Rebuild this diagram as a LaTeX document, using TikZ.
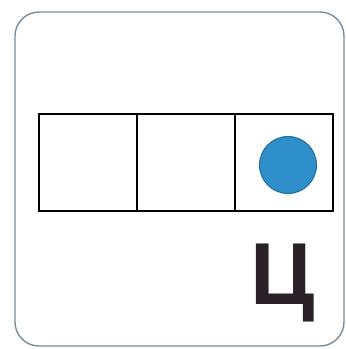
\documentclass[tikz,border=0pt]{standalone}
\usepackage{fontspec}
\newfontfamily\lettfont{Liberation Sans}
\definecolor{framec}{HTML}{7A8C99}
\definecolor{dotc}{HTML}{2E8FCB}
\definecolor{dotedge}{HTML}{1F6E9E}
\definecolor{letc}{HTML}{2A2226}
\tikzset{
  cellbox/.style={draw=black, line width=1.3pt, minimum width=98pt, minimum height=97pt, inner sep=0pt, outer sep=0pt},
  framebox/.style={draw=framec, line width=1.4pt, rounded corners=24pt},
}
\begin{document}
\begin{tikzpicture}[x=1pt,y=-1pt]
\useasboundingbox (0,0) rectangle (346,349);
\fill[white] (0,0) rectangle (346,349);
\draw[framebox] (15,12) rectangle (344,346);
\node[cellbox] (c1) at (88,162.5) {};
\node[cellbox] (c2) at (186,162.5) {};
\node[cellbox] (c3) at (284,162.5) {};
\node[circle, fill=dotc, draw=dotedge, line width=1pt, minimum size=57pt, inner sep=0pt] (dot) at (288,165) {};
\node[anchor=base west, inner sep=0pt, text=letc, font=\lettfont\bfseries\fontsize{88}{88}\selectfont] (let) at (250,304) {Ц};
\end{tikzpicture}
\end{document}
